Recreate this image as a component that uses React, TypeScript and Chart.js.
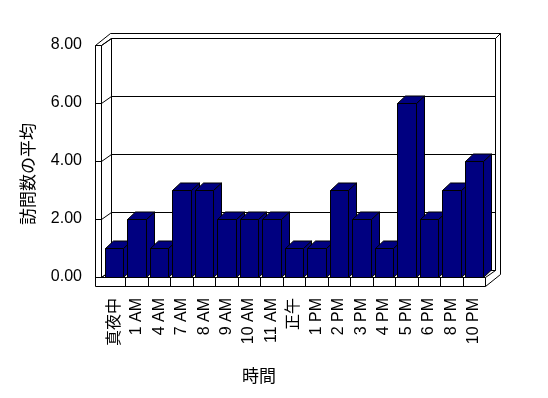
import React, { useEffect, useRef } from 'react';
import { Chart, registerables } from 'chart.js';

Chart.register(...registerables);

const categories = ['真夜中', '1 AM', '4 AM', '7 AM', '8 AM', '9 AM', '10 AM', '11 AM', '正午', '1 PM', '2 PM', '3 PM', '4 PM', '5 PM', '6 PM', '8 PM', '10 PM'];
const visitAverages = [1, 2, 1, 3, 3, 2, 2, 2, 1, 1, 3, 2, 1, 6, 2, 3, 4];
const yTickValues = [0, 2, 4, 6, 8];
const xAxisTitle = '時間';
const yAxisTitle = '訪問数の平均';

const LATIN_FONT = "'Liberation Sans', Arial, 'Noto Sans CJK JP', sans-serif";
const CJK_FONT = "'Noto Sans CJK JP', 'Liberation Sans', sans-serif";
const BAR_COLOR = '#000080';

const frame3d = {
  id: 'frame3d',
  beforeDatasetsDraw(chart: any) {
    const { ctx, chartArea, scales } = chart;
    const L = Math.round(chartArea.left);
    const R = Math.round(chartArea.right);
    const T = Math.round(chartArea.top);
    const B = Math.round(chartArea.bottom);
    const xo = L - 8;
    const xi = L - 2;
    const fb = B + 9;
    const dx = 9.5;
    const dy = -7.5;
    const ox = 14.5;
    const oy = -12;
    const r = (v: number) => Math.round(v) + 0.5;
    const line = (x1: number, y1: number, x2: number, y2: number) => {
      ctx.beginPath();
      ctx.moveTo(r(x1), r(y1));
      ctx.lineTo(r(x2), r(y2));
      ctx.stroke();
    };
    ctx.save();
    ctx.strokeStyle = '#000';
    ctx.lineWidth = 1;
    const bl = xi + dx;
    const br = R + dx;
    const bt = T + dy;
    const bb = B + dy;
    // left wall front face
    line(xo, T, xo, fb);
    line(xi, T, xi, B);
    line(xo, T, xi, T);
    // floor front face
    line(xi, B, R, B);
    line(xo, fb, R, fb);
    line(R, B, R, fb);
    // wall tops
    line(xo, T, xo + ox, T + oy);
    line(xi, T, bl, bt);
    line(xo + ox, T + oy, R + ox, T + oy);
    line(bl, bt, br, bt);
    line(br, bt, R + ox, T + oy);
    // right edges
    line(R + ox, T + oy, R + ox, fb + oy);
    line(br, bt, br, bb);
    line(R, B, br, bb);
    line(R, fb, R + ox, fb + oy);
    // back wall inner edges and floor back edge
    line(bl, bt, bl, bb);
    line(bl, bb, br, bb);
    line(xi, B, bl, bb);
    // gridlines
    const yScale = scales.y;
    yScale.ticks.forEach((t: any) => {
      const fy = yScale.getPixelForValue(t.value);
      line(xo, fy, xi, fy);
      line(xi, fy, bl, fy + dy);
      line(bl, fy + dy, br, fy + dy);
    });
    // floor dividers
    const xScale = scales.x;
    for (let i = 1; i < categories.length; i++) {
      const x = (xScale.getPixelForValue(i - 1) + xScale.getPixelForValue(i)) / 2;
      line(x, B, x, fb);
    }
    ctx.restore();
  },
  afterDatasetsDraw(chart: any) {
    const { ctx } = chart;
    const meta = chart.getDatasetMeta(0);
    const ddx = 8;
    const ddy = -7.5;
    ctx.save();
    ctx.strokeStyle = '#000';
    ctx.fillStyle = BAR_COLOR;
    ctx.lineWidth = 1;
    ctx.lineJoin = 'miter';
    meta.data.forEach((el: any) => {
      const { x, y, base, width } = el.getProps(['x', 'y', 'base', 'width'], true);
      const l = Math.round(x - width / 2) + 0.5;
      const rr = Math.round(x + width / 2) + 0.5;
      const t = Math.round(y) + 0.5;
      const b = Math.round(base) + 0.5;
      // front
      ctx.beginPath();
      ctx.rect(l, t, rr - l, b - t);
      ctx.fill();
      ctx.stroke();
      // side
      ctx.beginPath();
      ctx.moveTo(rr, t);
      ctx.lineTo(rr + ddx, t + ddy);
      ctx.lineTo(rr + ddx, b + ddy);
      ctx.lineTo(rr, b);
      ctx.closePath();
      ctx.fill();
      ctx.stroke();
      // top
      ctx.beginPath();
      ctx.moveTo(l, t);
      ctx.lineTo(l + ddx, t + ddy);
      ctx.lineTo(rr + ddx, t + ddy);
      ctx.lineTo(rr, t);
      ctx.closePath();
      ctx.fill();
      ctx.stroke();
    });
    ctx.restore();
  },
  afterDraw(chart: any) {
    const { ctx } = chart;
    ctx.save();
    ctx.fillStyle = '#000';
    ctx.font = `17px ${CJK_FONT}`;
    ctx.textAlign = 'center';
    ctx.textBaseline = 'middle';
    ctx.fillText(xAxisTitle, 259, 376);
    ctx.translate(28, 174);
    ctx.rotate(-Math.PI / 2);
    ctx.fillText(yAxisTitle, 0, 0);
    ctx.restore();
  },
};

export default function App() {
  const canvasRef = useRef<HTMLCanvasElement | null>(null);

  useEffect(() => {
    if (!canvasRef.current) return;
    const chart = new Chart(canvasRef.current, {
      type: 'bar',
      data: {
        labels: categories,
        datasets: [
          {
            label: yAxisTitle,
            data: visitAverages,
            backgroundColor: 'rgba(0,0,0,0)',
            borderWidth: 0,
            barPercentage: 0.82,
            categoryPercentage: 1.0,
          },
        ],
      },
      options: {
        responsive: false,
        animation: false,
        devicePixelRatio: 1,
        layout: { padding: { top: 45, right: 63, left: 0, bottom: 0 } },
        plugins: {
          legend: { display: false },
          tooltip: { enabled: false },
        },
        scales: {
          x: {
            grid: { display: false, drawTicks: false },
            border: { display: false },
            ticks: {
              autoSkip: false,
              maxRotation: 90,
              minRotation: 90,
              padding: 21,
              color: '#000',
              font: { family: LATIN_FONT, size: 16 },
            },
            afterFit: (scale: any) => {
              scale.height = 121;
            },
          },
          y: {
            min: 0,
            max: 8,
            afterBuildTicks: (scale: any) => {
              scale.ticks = yTickValues.map((v) => ({ value: v }));
            },
            grid: { display: false, drawTicks: false },
            border: { display: false },
            ticks: {
              padding: 21,
              color: '#000',
              font: { family: LATIN_FONT, size: 16 },
              callback: (v: any) => Number(v).toFixed(2),
            },
            afterFit: (scale: any) => {
              scale.width = 103;
            },
          },
        },
      },
      plugins: [frame3d],
    });
    return () => chart.destroy();
  }, []);

  return (
    <div style={{ position: 'fixed', left: 0, top: 0, width: 548, height: 398, background: '#fff' }}>
      <canvas ref={canvasRef} width={548} height={398} style={{ display: 'block' }} />
    </div>
  );
}
